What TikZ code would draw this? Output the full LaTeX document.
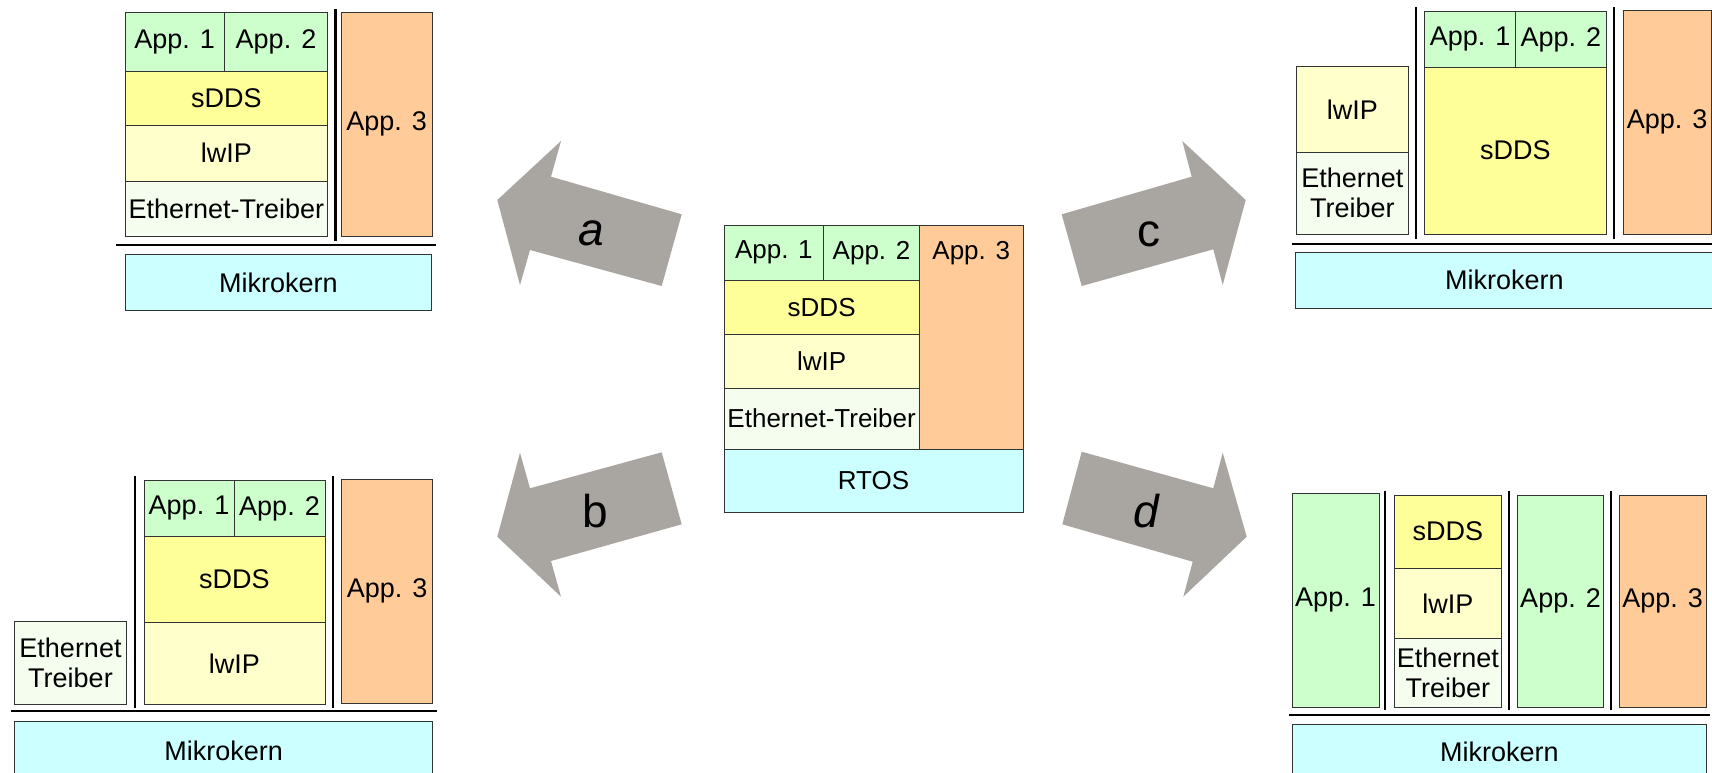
\documentclass[tikz,border=0pt]{standalone}
\usepackage{fontspec}
\setmainfont{Liberation Sans}
\setsansfont{Liberation Sans}
\definecolor{appg}{HTML}{CCFFCC}
\definecolor{sdds}{HTML}{FFFF99}
\definecolor{lwip}{HTML}{FFFFCC}
\definecolor{eth}{HTML}{F5FDEE}
\definecolor{appthree}{HTML}{FFCC99}
\definecolor{kern}{HTML}{CCFFFF}
\definecolor{arrowgray}{HTML}{A9A5A1}
\tikzset{
  box/.style={draw=black!80, line width=0.9pt, inner sep=0pt, align=center,
    font=\fontsize{27}{30}\selectfont},
  centrefont/.style={font=\fontsize{26}{30}\selectfont},
  sep/.style={draw=black, line width=2.2pt},
  bigarrow/.style={fill=arrowgray, draw=none},
  arrowlabel/.style={font=\fontsize{46}{50}\selectfont, inner sep=0pt},
  plaintext/.style={inner sep=0pt, font=\fontsize{26}{30}\selectfont}
}
\newcommand\bx[8][]{%
  \pgfmathsetmacro\bxw{#5-#3}\pgfmathsetmacro\bxh{#6-#4}%
  \pgfmathsetmacro\bxcx{(#3+#5)/2}\pgfmathsetmacro\bxcy{(#4+#6)/2}%
  \node[box, #1, fill=#7, minimum width=\bxw pt, minimum height=\bxh pt] (#2) at (\bxcx,\bxcy) {#8};}
\begin{document}
\begin{tikzpicture}[x=1pt, y=-1pt]
\useasboundingbox (0,0) rectangle (1712,772);
\clip (0,0) rectangle (1712,772);

% ---------- centre: RTOS ----------
\bx[centrefont]{c1}{724}{225}{823.7}{280.3}{appg}{App. 1}
\bx[centrefont]{c2}{823.7}{225}{919.3}{280.3}{appg}{App. 2}
\bx[centrefont]{c3}{919.3}{225}{1023}{449}{appthree}{}
\node[plaintext] (c3t) at (971.2,252.7) {App. 3};
\bx[centrefont]{cs}{724}{280.3}{919.3}{334.3}{sdds}{sDDS}
\bx[centrefont]{cl}{724}{334.3}{919.3}{388.3}{lwip}{lwIP}
\bx[centrefont]{ce}{724}{388.3}{919.3}{449}{eth}{Ethernet-Treiber}
\bx[centrefont]{cr}{724}{449}{1023}{512.3}{kern}{RTOS}

% ---------- panel a ----------
\bx{a1}{125}{12.3}{224.3}{71.7}{appg}{App. 1}
\bx{a2}{224.3}{12.3}{327.7}{71.7}{appg}{App. 2}
\bx{as}{125}{71.7}{327.7}{125}{sdds}{sDDS}
\bx{al}{125}{125}{327.7}{181}{lwip}{lwIP}
\bx{ae}{125}{181}{327.7}{236}{eth}{Ethernet-Treiber}
\bx{a3}{341}{12.3}{432.3}{236}{appthree}{App. 3}
\draw[sep] (335.5,9.3) -- (335.5,240.7);
\draw[sep] (116.3,245) -- (435.7,245);
\bx{am}{125}{254.3}{431.7}{310.7}{kern}{Mikrokern}

% ---------- panel b ----------
\bx{be}{14.3}{621.3}{126.7}{704}{eth}{Ethernet\\Treiber}
\draw[sep] (135,476) -- (135,708.3);
\bx{b1}{144}{480.7}{234}{536.3}{appg}{App. 1}
\bx{b2}{234}{480.7}{325}{536.3}{appg}{App. 2}
\bx{bs}{144}{536.3}{325}{622.7}{sdds}{sDDS}
\bx{bl}{144}{622.7}{325}{704}{lwip}{lwIP}
\draw[sep] (333,476) -- (333,708.3);
\bx{b3}{341.7}{479.3}{432.7}{703.3}{appthree}{App. 3}
\draw[sep] (10.7,711.3) -- (436.7,711.3);
\bx{bm}{14.7}{721.7}{432.7}{779}{kern}{Mikrokern}

% ---------- panel c ----------
\bx{rl}{1296.3}{66.7}{1408.3}{152.3}{lwip}{lwIP}
\bx{re}{1296.3}{152.3}{1408.3}{234}{eth}{Ethernet\\Treiber}
\draw[sep] (1416,7.3) -- (1416,238.7);
\bx{r1}{1424.7}{11.7}{1515.7}{67.3}{appg}{App. 1}
\bx{r2}{1515.7}{11.7}{1606}{67.3}{appg}{App. 2}
\bx{rs}{1424.7}{67.3}{1606}{234}{sdds}{sDDS}
\draw[sep] (1614.3,7.3) -- (1614.3,238.7);
\bx{r3}{1623.3}{10.7}{1711}{234}{appthree}{App. 3}
\draw[sep] (1291.7,244) -- (1715,244);
\bx{rm}{1295.7}{252.3}{1713}{308.3}{kern}{Mikrokern}

% ---------- panel d ----------
\bx{d1}{1292}{493.7}{1379}{707}{appg}{App. 1}
\draw[sep] (1385.3,490.7) -- (1385.3,710);
\bx{ds}{1394.7}{495}{1501}{568.3}{sdds}{sDDS}
\bx{dl}{1394.7}{568.3}{1501}{638.3}{lwip}{lwIP}
\bx{de}{1394.7}{638.3}{1501}{707.7}{eth}{Ethernet\\Treiber}
\draw[sep] (1509,490.7) -- (1509,710);
\bx{d2}{1517.3}{495}{1603.7}{707.7}{appg}{App. 2}
\draw[sep] (1611.3,490.7) -- (1611.3,710);
\bx{d3}{1619.3}{495}{1706}{707.7}{appthree}{App. 3}
\draw[sep] (1289,715.3) -- (1710,715.3);
\bx{dm}{1292.7}{724.3}{1706}{779}{kern}{Mikrokern}

% ---------- big arrows ----------
\fill[bigarrow] (497.3,200) -- (561,141) -- (551,176.7) -- (681.7,214.3)
  -- (661.7,286) -- (530,250) -- (520,285) -- cycle;
\node[arrowlabel, font=\fontsize{46}{50}\selectfont\itshape] (la) at (591,233) {a};

\fill[bigarrow] (497.3,536.7) -- (561,596.7) -- (551,561) -- (681.7,524.3)
  -- (661.7,452.3) -- (530,488.3) -- (520,452.7) -- cycle;
\node[arrowlabel] (lb) at (595,511) {b};

\fill[bigarrow] (1245.7,200) -- (1182.3,141) -- (1191.7,176.7) -- (1061.7,214.3)
  -- (1081.7,286) -- (1213.3,249.3) -- (1222.7,285) -- cycle;
\node[arrowlabel] (lc) at (1149,234) {c};

\fill[bigarrow] (1246.7,536.7) -- (1183.3,596.7) -- (1192.7,561.7) -- (1062.3,524.3)
  -- (1081.7,451.7) -- (1213.3,488.3) -- (1222.7,452.7) -- cycle;
\node[arrowlabel, font=\fontsize{46}{50}\selectfont\itshape] (ld) at (1146,511) {d};
\end{tikzpicture}
\end{document}
